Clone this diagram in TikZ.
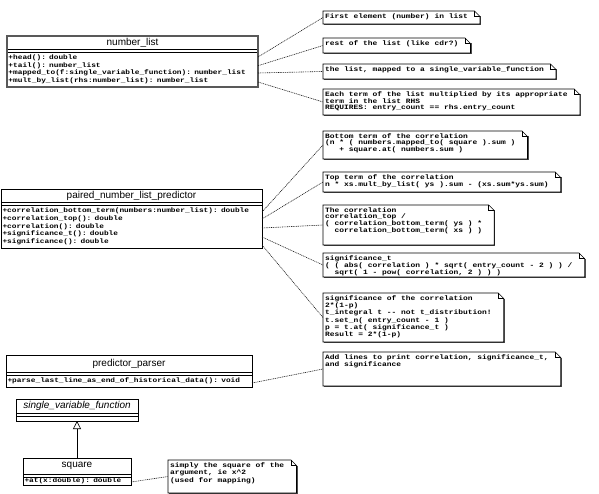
\documentclass[tikz,border=0pt]{standalone}
\usepackage{fontspec}
\setmainfont{Liberation Sans}
\newfontfamily\monofont[FakeStretch=1.2]{Liberation Mono}
\usetikzlibrary{positioning,arrows.meta}
\tikzset{clsname/.style = {draw, anchor=north west, inner sep=0pt, outer sep=0pt, minimum height=13, font=\fontsize{10}{12}\selectfont},
        clsattr/.style = {draw, inner sep=0pt, outer sep=0pt, minimum height=3},
    clsops/.style = {draw, inner xsep=1.5pt, inner ysep=1pt, outer sep=0pt, align=left, font=\monofont\bfseries\fontsize{6.5}{7.6}\selectfont},
        note/.style = {anchor=north west, inner xsep=2pt, inner ysep=2.5pt, align=left, font=\monofont\bfseries\fontsize{6.6}{5.7}\selectfont},
    notebox/.style = {draw=black, line width=0.6pt},
    noteshade/.style = {draw=black!70, line width=0.9pt},
    link/.style =   {dash pattern=on 1pt off 0.8pt, line width=0.6pt, draw=black!90},
    inherit/.style = {-{Triangle[open,length=8pt,width=8pt]}, semithick}
}
% #1 note node, #2 frame height
\newcommand\NoteFrame[2]{%
    \coordinate (#1-w) at ([yshift={-0.5*#2pt}]#1.north west);
    \draw[noteshade] ([xshift=10.7pt,yshift=-5.5pt]#1.north east) -- ([xshift=10.7pt,yshift={-#2pt-0.7pt}]#1.north east) -- ([xshift=0.7pt,yshift={-#2pt-0.7pt}]#1.north west);
    \draw[notebox] ([yshift=-#2pt]#1.north west) -- (#1.north west) -- ([xshift=4.5pt]#1.north east) -- ([xshift=10pt,yshift=-5.5pt]#1.north east) -- ([xshift=10pt,yshift=-#2pt]#1.north east) -- cycle;
    \draw[notebox] ([xshift=4.5pt]#1.north east) -- ([xshift=4.5pt,yshift=-5.5pt]#1.north east) -- ([xshift=10pt,yshift=-5.5pt]#1.north east);
    }

\begin{document}
\begin{tikzpicture}[x=1pt,y=-1pt]
 \useasboundingbox (0,0) rectangle (599,494);
 % number_list
 \node[clsname, minimum width=251] (nl) at (7,36) {number\_list};
 \node[clsattr, minimum width=251, below=0pt of nl] (nl-a) {};
 \node[clsops, text width=248, minimum height=35, below=0pt of nl-a] (nl-o) {+head(): double\\+tail(): number\_list\\+mapped\_to(f:single\_variable\_function): number\_list\\+mult\_by\_list(rhs:number\_list): number\_list};
 \draw[line width=1.3pt, draw=black!65] (nl.north west) rectangle (nl-o.south east);
 % paired_number_list_predictor
 \node[clsname, minimum width=261] (pn) at (1,189) {paired\_number\_list\_predictor};
 \node[clsattr, minimum width=261, below=0pt of pn] (pn-a) {};
 \node[clsops, text width=258, minimum height=43, below=0pt of pn-a] (pn-o) {+correlation\_bottom\_term(numbers:number\_list): double\\+correlation\_top(): double\\+correlation(): double\\+significance\_t(): double\\+significance(): double};
 % predictor_parser
 \node[clsname, minimum width=246, minimum height=17] (pp) at (6,355) {predictor\_parser};
 \node[clsattr, minimum width=246, below=0pt of pp] (pp-a) {};
 \node[clsops, text width=243, minimum height=12, below=0pt of pp-a] (pp-o) {+parse\_last\_line\_as\_end\_of\_historical\_data(): void};
 % single_variable_function and square
 \node[clsname, minimum width=122, minimum height=14, font=\fontsize{10}{12}\selectfont\itshape] (svf) at (16,399) {single\_variable\_function};
 \node[clsattr, minimum width=122, below=0pt of svf] (svf-a) {};
 \node[clsattr, minimum width=122, minimum height=5, below=0pt of svf-a] (svf-o) {};
 \node[clsname, minimum width=108, minimum height=16] (sq) at (23,458) {square};
 \node[clsattr, minimum width=108, below=0pt of sq] (sq-a) {};
 \node[clsops, text width=105, minimum height=8, below=0pt of sq-a] (sq-o) {+at(x:double): double};
 \draw[inherit] (sq.north) -- (svf-o.south);

 % notes
 \node[note] (n1) at (323,11) {First element (number) in list};
 \node[note] (n2) at (323,38) {rest of the list (like cdr?)};
 \node[note] (n3) at (323,64) {the list, mapped to a single\_variable\_function};
 \node[note] (n4) at (323,89) {Each term of the list multiplied by its appropriate\\term in the list RHS\\REQUIRES: entry\_count == rhs.entry\_count};
 \node[note] (n5) at (323,131) {Bottom term of the correlation\\(n * ( numbers.mapped\_to( square ).sum )\\\hphantom{xxx}+ square.at( numbers.sum )};
 \node[note] (n6) at (323,172) {Top term of the correlation\\n * xs.mult\_by\_list( ys ).sum - (xs.sum*ys.sum)};
 \node[note] (n7) at (323,205) {The correlation\\correlation\_top /\\( correlation\_bottom\_term( ys ) *\\\hphantom{xx}correlation\_bottom\_term( xs ) )};
 \node[note] (n8) at (323,253) {significance\_t\\( ( abs( correlation ) * sqrt( entry\_count - 2 ) ) /\\\hphantom{xx}sqrt( 1 - pow( correlation, 2 ) ) )};
 \node[note] (n9) at (323,293) {significance of the correlation\\2*(1-p)\\t\_integral t {-}{-} not t\_distribution!\\t.set\_n( entry\_count - 1 )\\p = t.at( significance\_t )\\Result = 2*(1-p)};
 \node[note] (n10) at (323,352) {Add lines to print correlation, significance\_t,\\and significance};
 \node[note] (n11) at (168,460) {simply the square of the\\argument, ie x\textasciicircum 2\\(used for mapping)};
 \foreach \n/\h in {n1/13,n2/15,n3/15,n4/26,n5/28,n6/20,n7/40,n8/24,n9/49,n10/34,n11/33}
  \NoteFrame{\n}{\h};

 % note links
 \foreach \t/\s in {n1/12.5, n2/3.8, n3/-3.5, n4/-12.5}
  \draw[link] ([yshift=\s pt]nl-o.east) -- (\t-w);
 \foreach \t/\s in {n5/14.5, n6/7.5, n7/-1.5, n8/-10.5, n9/-18.5}
  \draw[link] ([yshift=\s pt]pn-o.east) -- (\t-w);
 \draw[link] ([yshift=-2pt]pp-o.east) -- (n10-w);
 \draw[link] ([yshift=-1pt]sq-o.east) -- (n11-w);
\end{tikzpicture}
\end{document}
